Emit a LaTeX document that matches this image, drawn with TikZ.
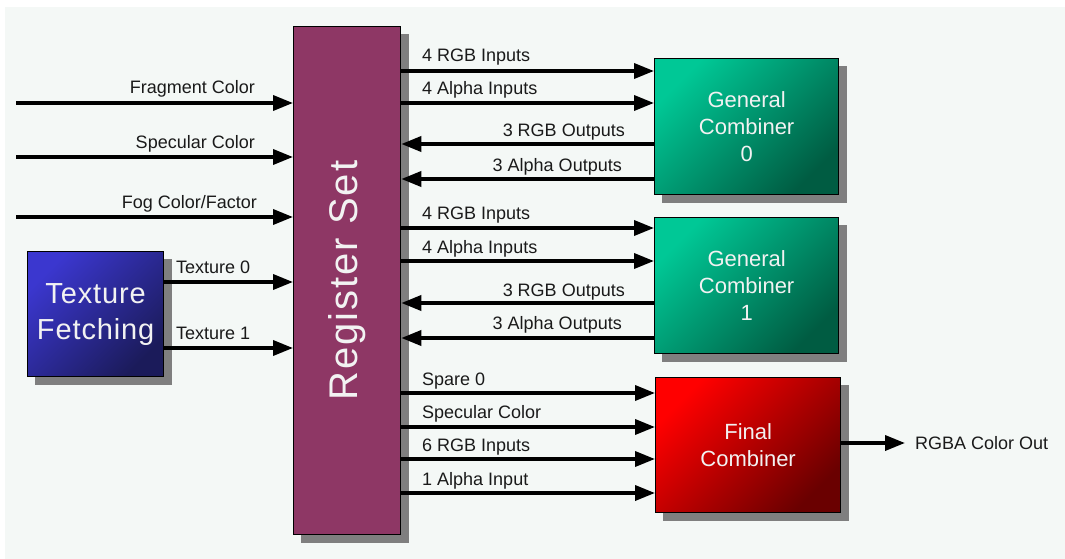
\documentclass[tikz,border=0pt]{standalone}
\usepackage{fontspec}
\setmainfont{Liberation Sans}
\usetikzlibrary{arrows.meta,backgrounds}

\definecolor{pagebg}{HTML}{F4F8F6}
\definecolor{regfill}{HTML}{8E3765}
\definecolor{shadowc}{HTML}{7F7F7F}
\definecolor{blueA}{HTML}{3B37CF}
\definecolor{blueB}{HTML}{1B1B5A}
\definecolor{greenA}{HTML}{00C896}
\definecolor{greenB}{HTML}{005C42}
\definecolor{redA}{HTML}{FF0000}
\definecolor{redB}{HTML}{6A0000}
\definecolor{boxtext}{HTML}{F2F2F2}
\definecolor{labeltext}{HTML}{1A1A1A}

\begin{document}
\begin{tikzpicture}[x=1pt,y=-1pt,
  block/.style={draw=black, line width=1.3pt, rectangle, anchor=north west,
    inner sep=0pt, text=boxtext, align=center},
  regbox/.style={block, fill=regfill, minimum width=107pt, minimum height=508pt},
  texbox/.style={block, top color=blueA, bottom color=blueB, shading angle=45,
    minimum width=136pt, minimum height=125pt,
    font=\fontsize{29}{36}\selectfont\addfontfeature{LetterSpace=3}},
  genbox/.style={block, top color=greenA, bottom color=greenB, shading angle=45,
    minimum width=184pt, minimum height=136pt,
    font=\fontsize{22}{27}\selectfont},
  finbox/.style={block, top color=redA, bottom color=redB, shading angle=45,
    minimum width=185pt, minimum height=135pt,
    font=\fontsize{22}{27}\selectfont},
  arr/.style={line width=3.6pt, -{Triangle[length=20pt,width=15pt]}},
  lbl/.style={inner sep=0pt, text=labeltext, font=\fontsize{18}{20}\selectfont},
  shadowfill/.style={fill=shadowc}
]
\useasboundingbox (0,0) rectangle (1065,559);

% blocks
\node[regbox] (reg) at (293,26) {};
\node[rotate=90, text=boxtext, inner sep=0pt,
  font=\fontsize{40}{44}\selectfont\addfontfeature{LetterSpace=5}]
  (regtxt) at (reg.center) {Register Set};
\node[texbox] (tex) at (27,251) {Texture\\Fetching};
\node[genbox] (gc0) at (654,58) {General\\Combiner\\0};
\node[genbox] (gc1) at (654,217) {General\\Combiner\\1};
\node[finbox] (fin) at (655,377) {Final\\Combiner};

% page and drop shadows
\begin{scope}[on background layer]
  \fill[white] (0,0) rectangle (1065,559);
  \fill[pagebg] (5,7) rectangle (1065,559);
  \foreach \b in {reg,tex,gc0,gc1,fin}
    \fill[shadowfill] ([shift={(8pt,-8pt)}]\b.north west)
      rectangle ([shift={(8pt,-8pt)}]\b.south east);
\end{scope}

% external inputs on the left
\coordinate (fragin) at (16,103);
\coordinate (specin) at (16,157);
\coordinate (fogin)  at (16,217);
\draw[arr] (fragin) -- (reg.west |- fragin);
\draw[arr] (specin) -- (reg.west |- specin);
\draw[arr] (fogin)  -- (reg.west |- fogin);
\node[lbl, anchor=base east] (lfrag) at (255,94)  {Fragment Color};
\node[lbl, anchor=base east] (lspec) at (255,149) {Specular Color};
\node[lbl, anchor=base east] (lfog)  at (257,208) {Fog Color/Factor};

% texture outputs
\coordinate (t0) at (163,282);
\coordinate (t1) at (163,348);
\draw[arr] (t0) -- (reg.west |- t0);
\draw[arr] (t1) -- (reg.west |- t1);
\node[lbl, anchor=base west] (lt0) at (176,273) {Texture 0};
\node[lbl, anchor=base west] (lt1) at (176,339) {Texture 1};

% general combiner 0
\coordinate (g0a) at (654,71);
\coordinate (g0b) at (654,103);
\coordinate (g0c) at (654,144);
\coordinate (g0d) at (654,179);
\draw[arr] (reg.east |- g0a) -- (gc0.west |- g0a);
\draw[arr] (reg.east |- g0b) -- (gc0.west |- g0b);
\draw[arr] (gc0.west |- g0c) -- (reg.east |- g0c);
\draw[arr] (gc0.west |- g0d) -- (reg.east |- g0d);
\node[lbl, anchor=base west] (l0a) at (422,62)  {4 RGB Inputs};
\node[lbl, anchor=base west] (l0b) at (422,95)  {4 Alpha Inputs};
\node[lbl, anchor=base east] (l0c) at (625,137) {3 RGB Outputs};
\node[lbl, anchor=base east] (l0d) at (622,171) {3 Alpha Outputs};

% general combiner 1
\coordinate (g1a) at (654,228);
\coordinate (g1b) at (654,261);
\coordinate (g1c) at (654,303);
\coordinate (g1d) at (654,338);
\draw[arr] (reg.east |- g1a) -- (gc1.west |- g1a);
\draw[arr] (reg.east |- g1b) -- (gc1.west |- g1b);
\draw[arr] (gc1.west |- g1c) -- (reg.east |- g1c);
\draw[arr] (gc1.west |- g1d) -- (reg.east |- g1d);
\node[lbl, anchor=base west] (l1a) at (422,219) {4 RGB Inputs};
\node[lbl, anchor=base west] (l1b) at (422,253) {4 Alpha Inputs};
\node[lbl, anchor=base east] (l1c) at (625,296) {3 RGB Outputs};
\node[lbl, anchor=base east] (l1d) at (622,329) {3 Alpha Outputs};

% final combiner
\coordinate (fa) at (655,393);
\coordinate (fb) at (655,427);
\coordinate (fc) at (655,459);
\coordinate (fd) at (655,493);
\draw[arr] (reg.east |- fa) -- (fin.west |- fa);
\draw[arr] (reg.east |- fb) -- (fin.west |- fb);
\draw[arr] (reg.east |- fc) -- (fin.west |- fc);
\draw[arr] (reg.east |- fd) -- (fin.west |- fd);
\node[lbl, anchor=base west] (lfa) at (422,385) {Spare 0};
\node[lbl, anchor=base west] (lfb) at (422,418) {Specular Color};
\node[lbl, anchor=base west] (lfc) at (422,451) {6 RGB Inputs};
\node[lbl, anchor=base west] (lfd) at (422,485) {1 Alpha Input};

% final output
\coordinate (rgbaout) at (905,443);
\draw[arr] (fin.east |- rgbaout) -- (rgbaout);
\node[lbl, anchor=west] (lout) at (915,443) {RGBA Color Out};
\end{tikzpicture}
\end{document}
